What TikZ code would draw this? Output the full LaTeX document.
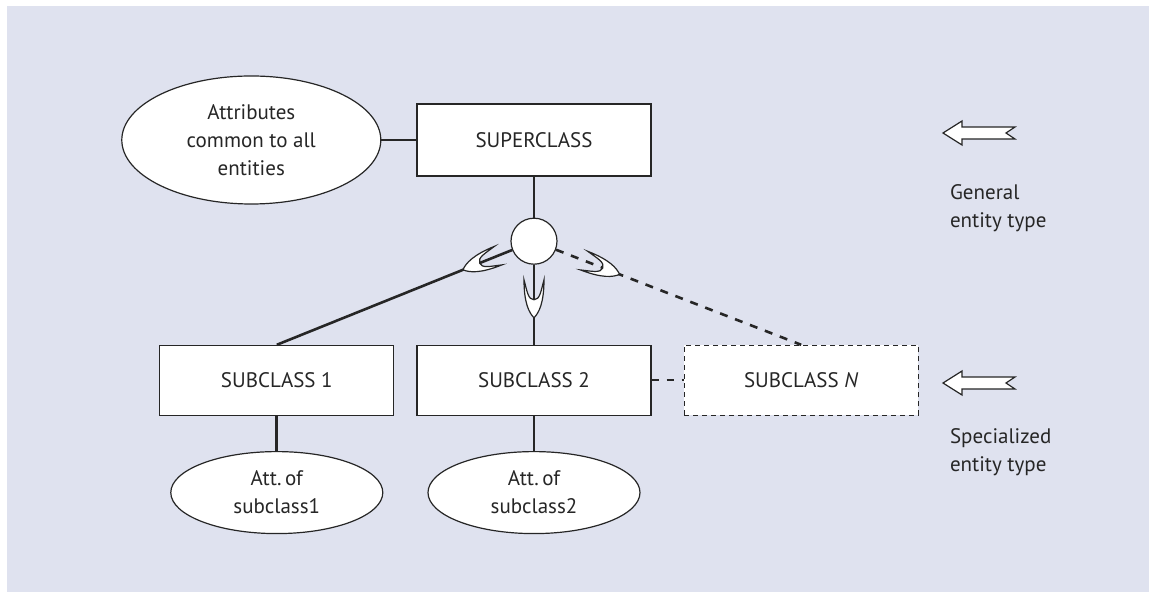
\documentclass[tikz,border=0pt]{standalone}
\usepackage{fontspec}
\setmainfont{PT Sans}
\usetikzlibrary{positioning, shapes.geometric}

\begin{document}
\begin{tikzpicture}[x=1pt, y=1pt, font=\fontsize{10.5}{14}\selectfont]
    \newlength\hgap
    \newlength\vgap
    \newlength\attgap
    \setlength\hgap{11pt}
    \setlength\vgap{20.5pt}
    \setlength\attgap{17.5pt}
    \definecolor{panel-blue}{RGB}{223,226,239}
    \colorlet{ink}{black!85}
    \tikzset{
        entity/.style={draw=ink, line width=.6pt, fill=white, text=ink,
            minimum width=117pt, minimum height=35pt},
        attribute/.style={ellipse, draw=ink, line width=.6pt, fill=white, text=ink,
            inner sep=0pt, align=center, minimum width=106pt, minimum height=41pt},
        link/.style={ink, line width=1.3pt},
        optional/.style={dash pattern=on 4pt off 4pt},
        note/.style={text=ink, align=left, anchor=west},
        subsetcup/.pic={
            \filldraw[fill=white, draw=ink, line width=.6pt]
                (-9.5,5) .. controls (2,5) and (7,2.5) .. (9.5,0)
                .. controls (7,-2.5) and (2,-5) .. (-9.5,-5)
                .. controls (-4,-3.5) and (0.5,-3) .. (0.5,0)
                .. controls (0.5,3) and (-4,3.5) .. (-9.5,5) -- cycle;
        },
        blockarrow/.pic={
            \filldraw[fill=white, draw=ink, line width=.6pt]
                (-18,0) -- (-8.5,6) -- (-8.5,3) -- (18,3) -- (13.5,0)
                -- (18,-3) -- (-8.5,-3) -- (-8.5,-6) -- cycle;
        }
    }

    % BACKGROUND PANEL
    \fill[panel-blue] (-263.5,67) rectangle (307.5,-226);
    \useasboundingbox (-267,70) rectangle (307.5,-226);

    % SUPERCLASS AND ITS ATTRIBUTES
    \node[entity, minimum height=36pt] (super) at (0,0) {SUPERCLASS};
    \node[attribute, minimum width=129.5pt, minimum height=64pt,
        left = \attgap of super] (commonatt) {Attributes\\common to all\\entities};

    % SPECIALIZATION CIRCLE
    \node[circle, draw=ink, line width=.6pt, fill=white, inner sep=0pt,
        minimum size=23pt, below = \vgap of super] (isa) {};

    % SUBCLASSES
    \node[entity, below = 40pt of isa] (sub2) {SUBCLASS 2};
    \node[entity, left = \hgap of sub2] (sub1) {SUBCLASS 1};
    \node[entity, dashed, dash pattern=on 2.5pt off 2pt,
        right = 16pt of sub2] (subn) {SUBCLASS \textit{N}};

    % SUBCLASS ATTRIBUTES
    \node[attribute, below = \attgap of sub1] (att1) {Att.\,of\\subclass1};
    \node[attribute, below = \attgap of sub2] (att2) {Att.\,of\\subclass2};

    % Attribute links
    \draw[link] (commonatt) -- (super);
    \foreach \idx in {1, 2}
        \draw[link] (sub\idx) -- (att\idx);

    % Superclass to specialization and down to subclasses
    \draw[link] (super) -- (isa);
    \draw[link] (isa) -- (sub1.north);
    \draw[link] (isa) -- (sub2.north);
    \draw[link, optional] (isa) -- (subn.north);
    \draw[link, line width=1pt, dash pattern=on 3.5pt off 4pt] (sub2) -- (subn);

    % Subset symbols on the links
    \foreach \sub/\where in {sub1/.134, sub2/.425, subn/.187}
        \path (isa) -- (\sub.north) pic[pos=\where, sloped, allow upside down] {subsetcup};

    % LEVEL MARKERS
    \pic (genarrow) at (222.5,3.5) {blockarrow};
    \node[note] (gentext) at (204.5,-34.25) {General\\entity type};
    \pic (specarrow) at (222.5,-121.5) {blockarrow};
    \node[note] (spectext) at (204.5,-156.25) {Specialized\\entity type};
\end{tikzpicture}
\end{document}
